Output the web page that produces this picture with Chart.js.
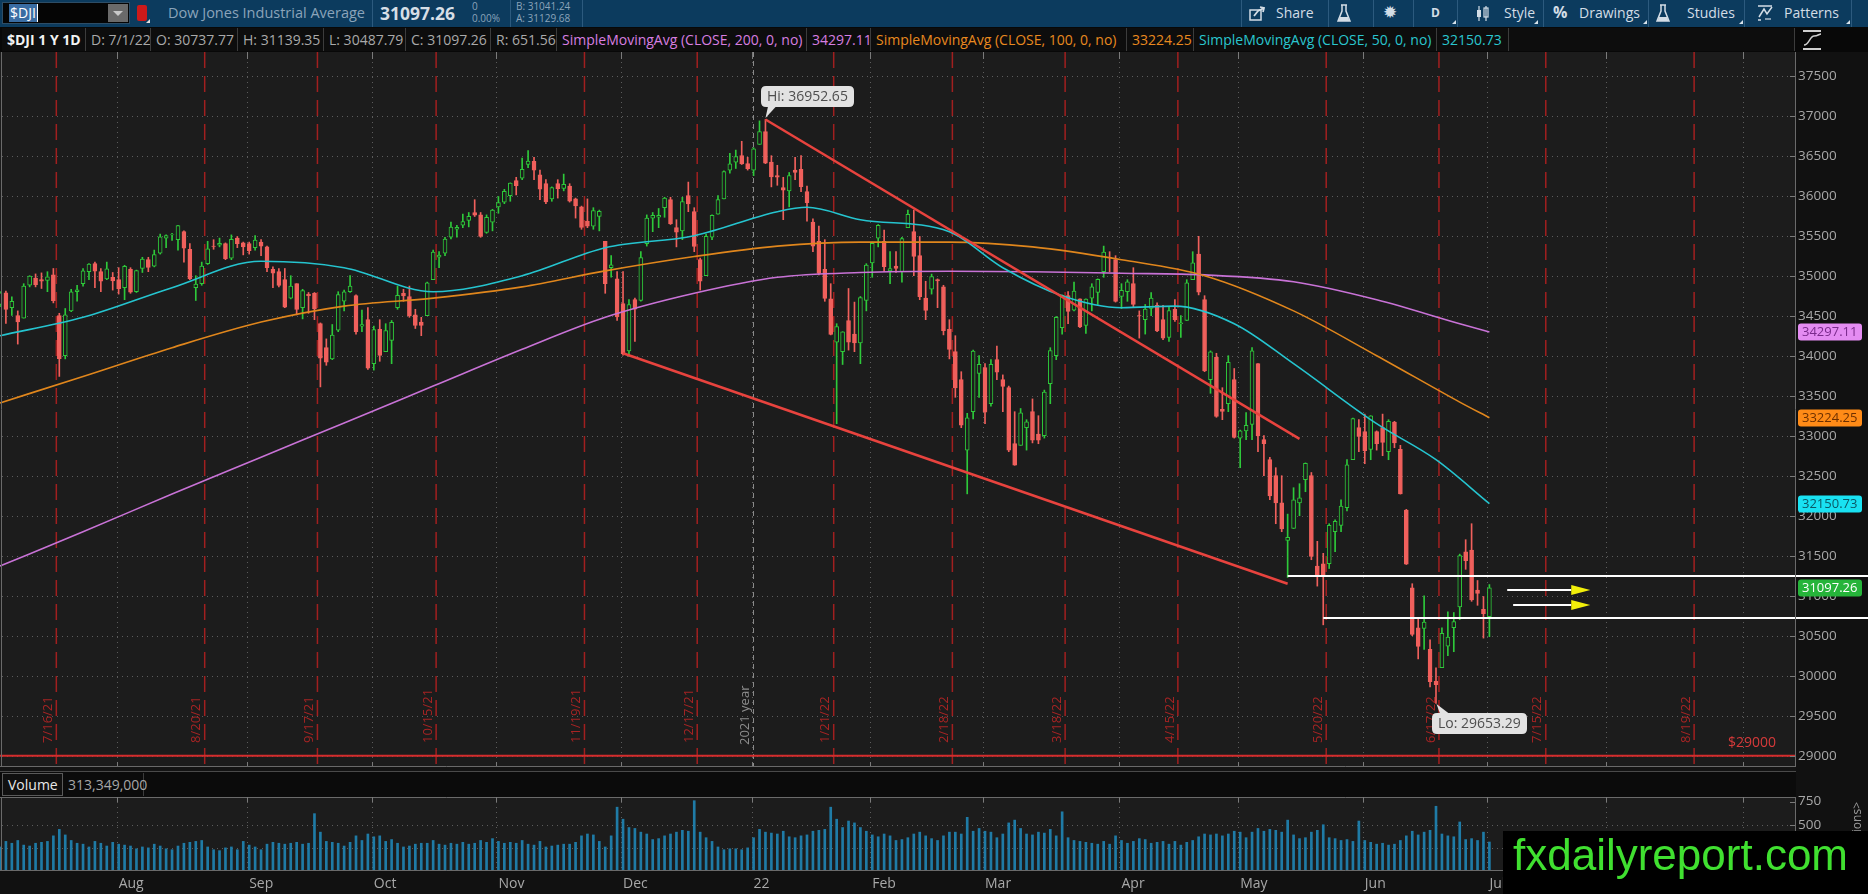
<!DOCTYPE html>
<html>
<head>
<meta charset="utf-8">
<title>$DJI 1 Y 1D</title>
<script src="https://cdn.jsdelivr.net/npm/chart.js@4.4.1/dist/chart.umd.min.js"></script>
<style>
*{box-sizing:border-box}
html,body{margin:0;padding:0;width:1868px;height:894px;overflow:hidden;background:#111111;font-family:'Open Sans',sans-serif;}
#tb{position:absolute;left:0;top:0;width:1868px;height:27px;background:#0c3b5e;}
.t{position:absolute;white-space:nowrap;}
.sep{position:absolute;top:0;width:1px;height:27px;background:#2c5a7e;}
.tri{position:absolute;top:20px;width:0;height:0;border-left:4px solid transparent;border-bottom:4px solid #d8e2ea;}
.bt{position:absolute;top:3px;font-size:14px;line-height:20px;color:#d3dde6;white-space:nowrap}
#info{position:absolute;left:0;top:27px;width:1868px;height:25px;background:#080808;}
.cell{position:absolute;top:1px;height:23px;line-height:23px;font-size:14px;color:#a9a9a9;padding-left:5px;border-right:1px solid #3c3c3c;white-space:nowrap;overflow:hidden;background:#0d0d0d}
canvas{position:absolute;display:block}
#gap{position:absolute;left:0;top:767px;width:1796px;height:5px;background:#141414;border-bottom:1px solid #4a4a4a}
#vhead{position:absolute;left:0;top:772px;width:1796px;height:25px;background:#0b0b0b;}
#wm{position:absolute;left:1503px;top:831px;width:365px;height:63px;background:#000;color:#40e030;font-family:'Liberation Sans',Arial,sans-serif;font-size:44px;line-height:48px;padding-left:10px;white-space:nowrap}
</style>
</head>
<body>

<div id="tb">
  <div style="position:absolute;left:2px;top:2px;width:128px;height:22px;background:#050505;border:1px solid #2d4d66"></div>
  <div class="t" style="left:9px;top:4px;height:18px;line-height:18px;padding:0 1px;background:#3a6da3;color:#fff;font-size:14px">$DJI</div>
  <div style="position:absolute;left:37px;top:4px;width:1px;height:18px;background:#fff"></div>
  <div style="position:absolute;left:108px;top:4px;width:20px;height:18px;background:#6a6a6a"></div>
  <div style="position:absolute;left:113px;top:11px;width:0;height:0;border-left:5px solid transparent;border-right:5px solid transparent;border-top:5px solid #c8c8c8"></div>
  <div style="position:absolute;left:137px;top:5px;width:10px;height:16px;background:#cc1a1a;border-radius:2px"></div>
  <div style="position:absolute;left:146px;top:19px;width:0;height:0;border-left:4px solid transparent;border-bottom:4px solid #e0e0e0"></div>
  <div class="t" style="left:168px;top:3px;font-size:14.5px;line-height:20px;color:#8ba4ba">Dow Jones Industrial Average</div>
  <div class="sep" style="left:372px"></div>
  <div class="t" id="tbPrice" style="left:380px;top:1px;font-size:17.5px;line-height:24px;font-weight:700;color:#d6dee6"></div>
  <div class="t" style="left:472px;top:0px;font-size:10px;line-height:12px;color:#8ba4ba">0</div>
  <div class="t" style="left:472px;top:12px;font-size:10px;line-height:12px;color:#8ba4ba">0.00%</div>
  <div class="sep" style="left:510px"></div>
  <div class="t" style="left:516px;top:0px;font-size:10px;line-height:12px;color:#8ba4ba">B: 31041.24</div>
  <div class="t" style="left:516px;top:12px;font-size:10px;line-height:12px;color:#8ba4ba">A: 31129.68</div>
  <div class="sep" style="left:582px"></div>

  <div class="sep" style="left:1241px"></div>
  <svg style="position:absolute;left:1249px;top:6px" width="17" height="15"><rect x="1" y="4" width="11" height="10" fill="none" stroke="#d3dde6" stroke-width="1.5"/><path d="M5 10 L9 5 L15 2 M11 1 L15 2 L14 6" fill="none" stroke="#d3dde6" stroke-width="1.8"/></svg>
  <div class="bt" style="left:1276px">Share</div>
  <div class="sep" style="left:1328px"></div>
  <svg style="position:absolute;left:1337px;top:4px" width="14" height="19"><path d="M4 1 H10 M5 1 V7 L1 17 H13 L9 7 V1" fill="none" stroke="#d3dde6" stroke-width="1.5"/><path d="M3 13 H11 L12.5 17 H1.5 Z" fill="#d3dde6"/></svg>
  <div class="sep" style="left:1373px"></div>
  <div class="bt" style="left:1383px;top:2px;font-size:17px">&#10041;</div>
  <div class="sep" style="left:1413px"></div>
  <div class="bt" style="left:1431px;font-weight:700;font-size:12px">D</div>
  <div class="tri" style="left:1452px"></div>
  <div class="sep" style="left:1457px"></div>
  <svg style="position:absolute;left:1475px;top:5px" width="15" height="17"><path d="M4 1 V16 M11 1 V16" stroke="#d3dde6" stroke-width="1.2"/><rect x="2" y="5" width="4" height="7" fill="#d3dde6"/><rect x="9" y="3" width="4" height="9" fill="none" stroke="#d3dde6" stroke-width="1.2"/></svg>
  <div class="bt" style="left:1504px">Style</div>
  <div class="tri" style="left:1534px"></div>
  <div class="sep" style="left:1543px"></div>
  <div class="bt" style="left:1553px;font-weight:700;font-size:16px;top:2px">%</div>
  <div class="bt" style="left:1579px">Drawings</div>
  <div class="tri" style="left:1643px"></div>
  <div class="sep" style="left:1648px"></div>
  <svg style="position:absolute;left:1656px;top:4px" width="14" height="19"><path d="M4 1 H10 M5 1 V7 L1 17 H13 L9 7 V1" fill="none" stroke="#d3dde6" stroke-width="1.5"/><path d="M3 13 H11 L12.5 17 H1.5 Z" fill="#d3dde6"/></svg>
  <div class="bt" style="left:1687px">Studies</div>
  <div class="tri" style="left:1739px"></div>
  <div class="sep" style="left:1744px"></div>
  <svg style="position:absolute;left:1757px;top:4px" width="17" height="18"><path d="M1 2 H15 M1 16 H4" stroke="#d3dde6" stroke-width="1.6"/><path d="M2 13 L7 5 L10 10 L15 3" fill="none" stroke="#d3dde6" stroke-width="1.5"/><path d="M8 15 L14 15" stroke="#d3dde6" stroke-width="1.2"/></svg>
  <div class="bt" style="left:1784px">Patterns</div>
  <div class="tri" style="left:1846px"></div>
  <div class="sep" style="left:1851px"></div>
</div>

<div id="info">
  <div class="cell" style="left:2px;width:84px;color:#f2f2f2;font-weight:700">$DJI 1 Y 1D</div>
  <div class="cell" style="left:86px;width:65px" id="cD"></div>
  <div class="cell" style="left:151px;width:87px" id="cO"></div>
  <div class="cell" style="left:238px;width:86px" id="cH"></div>
  <div class="cell" style="left:324px;width:82px" id="cL"></div>
  <div class="cell" style="left:406px;width:85px" id="cC"></div>
  <div class="cell" style="left:491px;width:66px" id="cR"></div>
  <div class="cell" style="left:557px;width:250px;color:#d77ee0">SimpleMovingAvg (CLOSE, 200, 0, no)</div>
  <div class="cell" style="left:807px;width:64px;color:#d77ee0" id="c200"></div>
  <div class="cell" style="left:871px;width:256px;color:#e8891f">SimpleMovingAvg (CLOSE, 100, 0, no)</div>
  <div class="cell" style="left:1127px;width:67px;color:#e8891f" id="c100"></div>
  <div class="cell" style="left:1194px;width:243px;color:#2ac6cf">SimpleMovingAvg (CLOSE, 50, 0, no)</div>
  <div class="cell" style="left:1437px;width:72px;color:#2ac6cf" id="c50"></div>
  <div class="cell" style="left:1509px;width:286px"></div>
  <svg style="position:absolute;left:1802px;top:2px" width="21" height="22"><path d="M1 2 H19 M1 20 H19" stroke="#cfcfcf" stroke-width="2"/><path d="M2 16 C7 16 8 7 12 7 S17 5 19 5" fill="none" stroke="#cfcfcf" stroke-width="1.5"/></svg>
</div>

<canvas id="price" width="1871" height="715" style="left:-3px;top:52px;width:1871px;height:715px"></canvas>
<div id="gap"></div>
<div id="vhead">
  <div style="position:absolute;left:2px;top:1px;width:61px;height:23px;border:1px solid #5a5a5a;background:#101010;color:#e8e8e8;font-size:14px;line-height:21px;padding-left:5px">Volume</div>
  <div id="vtxt" style="position:absolute;left:63px;top:1px;width:81px;height:23px;border-right:1px solid #3c3c3c;color:#a6a6a6;font-size:14px;line-height:23px;padding-left:5px"></div>
</div>
<canvas id="vol" width="1871" height="105" style="left:-3px;top:789px;width:1871px;height:105px"></canvas>
<div id="wm">fxdailyreport.com</div>

<script>
// ---------- calendar / categories ----------
const firstDay = '2021-07-02';
const slotCount = 303; // trading days shown incl. future expansion area
const holidays = ['2021-07-05','2021-09-06','2021-11-25','2021-12-24','2022-01-17','2022-02-21','2022-04-15','2022-05-30','2022-06-20','2022-07-04','2022-09-05'];
function tradingCalendar(first, count, closed){
  const out = []; const d = new Date(first + 'T00:00:00Z');
  while (out.length < count){
    const w = d.getUTCDay(); const s = d.toISOString().slice(0,10);
    if (w !== 0 && w !== 6 && closed.indexOf(s) < 0) out.push(s);
    d.setUTCDate(d.getUTCDate() + 1);
  }
  return out;
}
const categories = tradingCalendar(firstDay, slotCount, holidays);

// ---------- daily OHLC (Jul 2 2021 .. Jul 1 2022) ----------
const opens = [
34642,34786,34600,34500,34470,34880,34970,34950,34940,35010,34500,34000,34560,34800,34900,35050,35150,35050,34960,34980,
34950,34850,35080,34800,35090,35200,35120,35280,35470,35510,35450,35550,35330,34850,34900,35150,35370,35380,35400,35220,35470,35410,
35400,35350,35420,35360,35080,35050,34950,34720,34900,34600,34770,34780,34400,34100,33960,34320,34680,34800,34750,34370,34450,
33900,34330,34050,34190,34600,34780,34740,34510,34420,34500,34950,35230,35280,35480,35580,35630,35690,35790,35760,35540,35670,
35860,35920,36000,36190,36220,36390,36430,36260,36150,35960,36150,36090,36120,35960,35860,35680,35620,35740,35430,35100,34960,
34650,34060,34700,34690,35400,35720,35730,35850,35950,35600,35560,36000,35800,35200,35000,35480,35770,35960,36320,36420,36500,36400,
36320,36640,36800,36420,36250,36100,36060,36320,36330,36050,35670,35430,35080,34710,34170,34050,34440,34270,34160,34690,
35160,35470,35430,35060,35120,35050,35600,35550,35250,34720,34830,34950,34860,34330,34050,33700,32820,33300,33780,
33850,33400,33950,33700,33600,32900,32880,33100,33300,33020,33000,33650,34000,34350,34750,34570,34710,34380,34720,34790,35050,35230,35200,
34740,34800,34900,34500,34450,34590,34630,34450,34230,34580,34400,34440,34950,35270,34700,33700,33980,33330,33400,33700,
32970,33060,33140,33900,32950,32700,32500,32160,31690,31840,32160,32450,32500,31370,31400,31400,31800,31880,32100,32700,33100,
33050,32830,33050,33100,32800,33170,32830,32070,31100,30600,30590,30330,29930,30100,30370,30600,30860,31550,31570,31070,30830,
30737.77];
const highs = [
34802,34808,34735,34560,34900,35000,35022,35035,35050,35090,34530,34590,34830,34880,35090,35150,35170,35090,35170,35040,
35100,35130,35100,35070,35230,35230,35320,35520,35510,35530,35630,35560,35400,35000,35170,35430,35450,35470,35410,35510,35490,35420,
35420,35500,35450,35370,35110,35090,35090,35000,34900,34830,34790,34790,34410,34210,34390,34800,34820,35000,34760,34570,34600,
34370,34450,34400,34440,34870,34830,34870,34580,34480,34920,35320,35300,35480,35670,35630,35770,35790,35950,35790,35760,35830,
35990,36080,36160,36230,36470,36565,36480,36320,36200,36110,36200,36270,36150,35970,35870,35960,35850,35820,35430,35250,35050,
35050,34700,34720,35300,35760,35790,35840,35980,35980,35700,35980,36170,35850,35220,35520,35760,36000,36310,36530,36570,36680,36480,
36600,36935,36952.65,36500,36380,36230,36290,36480,36500,36120,35710,35620,35450,34900,34400,34300,34840,34670,34740,35150,
35420,35640,35570,35300,35300,35480,35820,35820,35490,34930,35020,34960,34880,34450,34250,33800,33280,34070,34000,
33900,33950,34120,33760,33620,33300,33340,33200,33460,33250,33570,34100,34490,34760,34800,34920,34710,34710,34900,34960,35370,35300,35250,
34900,34950,35100,34560,34640,34790,34660,34630,34610,34700,34500,34950,35300,35492,34750,34060,34030,33600,34000,33840,
33070,33290,34100,33900,33000,32730,32600,32500,32020,32350,32400,32660,32540,31680,31530,31900,31950,32200,32700,33220,33200,
33270,33250,33060,33270,33200,33180,32880,32080,31150,30720,31000,30450,30100,30600,30800,30790,31520,31700,31900,31190,30990,
31139.35];
const lows = [
34614,34402,34503,34145,34470,34860,34860,34840,34800,34660,33741,33960,34550,34680,34870,34950,34850,34800,34950,34820,
34770,34700,34780,34790,35040,35050,35110,35270,35350,35440,35320,35170,34950,34690,34880,35140,35330,35360,35200,35200,35350,35260,
35270,35320,35250,35050,34850,34860,34600,34710,34510,34460,34530,34450,33610,33880,33950,34300,34560,34790,34270,34300,33830,
33820,33930,34050,33900,34580,34680,34480,34340,34250,34500,34950,35100,35250,35460,35480,35600,35610,35740,35480,35530,35560,
35780,35900,35930,36010,36200,36350,36200,35950,35900,35930,35970,36060,35920,35720,35580,35600,35580,35560,34780,34980,34440,
34006,33990,34180,34680,35370,35550,35600,35730,35640,35360,35450,35800,35300,34820,35000,35450,35770,35960,36280,36340,36390,36320,
36250,36640,36400,36110,36130,35700,35860,36200,36050,35680,35300,35010,34680,34260,33150,33890,34070,34050,33900,34560,
34980,35360,35050,34900,35040,34920,35600,35000,34700,34450,34770,34600,34260,33960,33480,33100,32273,33210,33480,
33150,33370,33700,33300,32800,32630,32880,32820,32910,32900,32970,33400,33950,34270,34400,34560,34350,34280,34560,34640,34980,35050,34670,
34590,34680,34600,34220,34270,34500,34300,34200,34180,34430,34230,34440,34950,34760,33800,33530,33230,33200,33300,32970,
32600,32950,32950,32800,32500,32200,31900,31800,31229,31840,32000,32300,31450,31120,30636,31340,31550,31800,32060,32700,32800,
32650,32700,32820,32750,32700,32850,32270,31390,30500,30210,30330,29860,29653.29,30100,30250,30300,30700,31330,30930,30880,30470,
30487.79];
const closes = [
34786,34577,34681,34422,34870,34996,34889,34933,34987,34688,33962,34512,34798,34823,35062,35144,35058,34931,35085,34935,
34838,35117,34793,35064,35209,35102,35265,35485,35500,35515,35625,35343,34961,34894,35120,35336,35367,35406,35214,35456,35400,35361,
35313,35444,35369,35100,35031,34879,34608,34870,34578,34814,34751,34585,33970,33919,34258,34765,34798,34870,34300,34390,33844,
34326,34003,34315,34417,34755,34746,34496,34378,34377,34912,35295,35259,35458,35609,35603,35677,35741,35757,35491,35731,35820,
35914,36053,36158,36124,36328,36432,36320,36080,35921,36100,36087,36143,35931,35871,35602,35619,35814,35804,34899,35136,34484,
34022,34640,34580,35227,35719,35755,35754,35971,35650,35545,35927,35898,35365,34932,35493,35754,35950,36302,36398,36488,36398,36338,
36585,36800,36408,36236,36232,36069,36252,36290,36114,35912,35369,35029,34715,34265,34365,34298,34168,34161,34725,35132,
35405,35629,35112,35090,35091,35463,35768,35241,34738,34566,34989,34934,34312,34079,33597,33131,33224,34059,33893,
33294,33891,33795,33615,32818,32633,33286,33174,32944,32945,33545,34063,34481,34755,34553,34808,34359,34708,34862,34956,35294,35229,34678,
34818,34922,34641,34497,34584,34721,34309,34220,34565,34451,34412,34911,35161,34793,33811,34049,33240,33302,33916,32977,
33062,33129,34061,32998,32899,32246,32161,31834,31730,32197,32223,32655,31490,31253,31262,31880,31929,32120,32637,33213,32990,
32813,33248,32900,32916,33180,32910,32273,31393,30517,30365,30669,29927,29889,30530,30484,30677,31501,31439,30947,31029,30775,
31097.26];
// daily volume, millions
const volumes = [
260,320,300,330,280,270,300,310,320,380,450,390,330,300,290,260,320,300,270,310,
290,280,270,240,260,250,290,270,240,230,270,300,310,320,330,260,230,220,250,260,230,320,
280,260,230,290,310,300,290,300,310,290,300,620,420,320,310,300,270,310,380,330,400,
370,380,320,340,300,260,270,290,300,300,330,290,280,300,290,310,290,300,330,310,350,
320,300,310,300,330,290,280,320,260,270,280,290,290,310,380,400,390,320,260,380,690,
560,470,460,420,400,340,350,380,400,420,440,430,760,420,360,320,260,230,240,240,230,250,
360,450,420,410,400,430,370,360,380,390,430,440,450,690,560,470,540,520,470,430,
390,370,400,380,330,340,360,400,420,380,350,330,380,420,420,400,580,430,460,
430,420,360,400,520,550,460,400,390,420,410,450,380,640,360,330,320,310,300,290,320,290,380,
330,300,320,350,340,300,310,320,290,320,280,310,330,370,400,390,400,380,400,430,
420,360,420,460,430,450,440,420,550,390,350,360,420,440,500,360,350,330,340,320,540,
330,310,290,300,280,290,330,380,430,390,420,440,700,400,380,370,530,340,350,330,420,
313.349];

// ---------- moving averages ----------
const sma50Dates  = ['2021-07-02','2021-07-23','2021-08-13','2021-09-03','2021-09-24','2021-10-15','2021-11-05','2021-11-26','2021-12-17','2022-01-07','2022-01-14','2022-01-28','2022-02-18','2022-03-04','2022-03-18','2022-04-01','2022-04-14','2022-04-29','2022-05-13','2022-06-03','2022-06-17','2022-07-01'];
const sma50Values = [34250,34480,34850,35180,35100,34800,35000,35350,35500,35800,35855,35700,35550,35100,34750,34600,34620,34400,33900,33150,32700,32150.73];
const smaLongDates = ['2021-07-02','2021-07-23','2021-08-13','2021-09-03','2021-09-24','2021-10-15','2021-11-05','2021-11-26','2021-12-17','2022-01-07','2022-01-28','2022-02-18','2022-03-11','2022-04-01','2022-04-22','2022-05-13','2022-06-03','2022-06-24','2022-07-01'];
const sma100Values = [33410,33740,34100,34420,34620,34720,34860,35060,35240,35370,35420,35420,35360,35200,35000,34560,34000,33420,33224.25];
const sma200Values = [31370,31800,32270,32730,33160,33620,34080,34480,34780,34980,35040,35055,35050,35030,35010,34925,34700,34400,34297.11];

// ---------- drawings ----------
const trendUpperDates = ['2022-01-05','2022-05-16'];
const trendUpperValues = [36952.65, 32960];
const trendLowerDates = ['2021-12-01','2022-05-12'];
const trendLowerValues = [34030, 31150];
const levelStarts = ['2022-05-12','2022-05-20'];
const levelValues = [31250, 30725];
const arrowStarts = ['2022-07-07','2022-07-08'];
const arrowEnds = ['2022-07-27','2022-07-27'];
const arrowValues = [31070, 30880];
const alertLevel = 29000;
const expiryDates = ['2021-07-16','2021-08-20','2021-09-17','2021-10-15','2021-11-19','2021-12-17','2022-01-21','2022-02-18','2022-03-18','2022-04-14','2022-05-20','2022-06-17','2022-07-15','2022-08-19'];
const expiryLabels = ['7/16/21','8/20/21','9/17/21','10/15/21','11/19/21','12/17/21','1/21/22','2/18/22','3/18/22','4/15/22','5/20/22','6/17/22','7/15/22','8/19/22'];
const yearStart = '2022-01-03';
const yearLabel = '2021 year';

// ---------- axes ----------
const priceMin = 28859, priceMax = 37796;
const priceTicks = [29000,29500,30000,30500,31000,31500,32000,32500,33000,33500,34000,34500,35000,35500,36000,36500,37000,37500];
const volMax = 800;
const volTicks = [250,500,750];
const volGrid = [250,500];
const monthNames = ['Jan','Feb','Mar','Apr','May','Jun','Jul','Aug','Sep','Oct','Nov','Dec'];

// ---------- derived ----------
const FONT = "'Open Sans', sans-serif";
const last = closes.length - 1;
const upColor = '#2ec93a', downColor = '#f0605c', plotBg = '#1c1c1c';
const candleColors = closes.map((c,i) => c >= opens[i] ? upColor : downColor);
const bodyFill = closes.map((c,i) => c >= opens[i] ? plotBg : downColor);
const bodyData = closes.map((c,i) => [Math.min(opens[i], c), Math.max(opens[i], c)]);
const wickData = closes.map((c,i) => [lows[i], highs[i]]);
const pts = (ds, vs) => ds.map((d,k) => ({x:d, y:vs[k]}));
const monthStarts = [];
for (let i = 1; i < categories.length; i++) if (categories[i].slice(0,7) !== categories[i-1].slice(0,7)) monthStarts.push(i);
function monthLabel(s){ const m = +s.slice(5,7) - 1; return m === 0 ? s.slice(2,4) : monthNames[m]; }
const hiIdx = highs.indexOf(Math.max(...highs));
const loIdx = lows.indexOf(Math.min(...lows));

// header texts from data
const d0 = categories[last];
document.getElementById('tbPrice').textContent = closes[last].toFixed(2);
document.getElementById('cD').textContent = 'D: ' + (+d0.slice(5,7)) + '/' + (+d0.slice(8,10)) + '/' + d0.slice(2,4);
document.getElementById('cO').textContent = 'O: ' + opens[last].toFixed(2);
document.getElementById('cH').textContent = 'H: ' + highs[last].toFixed(2);
document.getElementById('cL').textContent = 'L: ' + lows[last].toFixed(2);
document.getElementById('cC').textContent = 'C: ' + closes[last].toFixed(2);
document.getElementById('cR').textContent = 'R: ' + (highs[last] - lows[last]).toFixed(2);
document.getElementById('c200').textContent = sma200Values[sma200Values.length-1].toFixed(2);
document.getElementById('c100').textContent = sma100Values[sma100Values.length-1].toFixed(2);
document.getElementById('c50').textContent = sma50Values[sma50Values.length-1].toFixed(2);
document.getElementById('vtxt').textContent = Math.round(volumes[last]*1e6).toLocaleString('en-US');

// ---------- helpers ----------
function seg(ctx,x1,y1,x2,y2){ ctx.beginPath(); ctx.moveTo(x1,y1); ctx.lineTo(x2,y2); ctx.stroke(); }
function rrect(ctx,x,y,w,h,r){ ctx.beginPath(); ctx.moveTo(x+r,y); ctx.lineTo(x+w-r,y); ctx.quadraticCurveTo(x+w,y,x+w,y+r); ctx.lineTo(x+w,y+h-r); ctx.quadraticCurveTo(x+w,y+h,x+w-r,y+h); ctx.lineTo(x+r,y+h); ctx.quadraticCurveTo(x,y+h,x,y+h-r); ctx.lineTo(x,y+r); ctx.quadraticCurveTo(x,y,x+r,y); ctx.closePath(); }
function vtext(ctx, s, xc, yBottom, color){ ctx.save(); ctx.translate(xc, yBottom); ctx.rotate(-Math.PI/2); ctx.fillStyle = color; ctx.font = '13px ' + FONT; ctx.textAlign = 'left'; ctx.textBaseline = 'middle'; ctx.fillText(s, 0, 0); ctx.restore(); }
function tag(ctx, xl, yc, text, bg, fg){ rrect(ctx, xl, yc-8.5, 64, 17, 3); ctx.fillStyle = bg; ctx.fill(); ctx.fillStyle = fg; ctx.font = '13px ' + FONT; ctx.textAlign = 'left'; ctx.textBaseline = 'middle'; ctx.fillText(text, xl+4, yc+0.5); }
function callout(ctx, px, py, text, above){
  ctx.font = '14px ' + FONT;
  const w = Math.ceil(ctx.measureText(text).width) + 12, h = 21;
  const bx = px - 4, by = above ? py - 33 : py + 10;
  ctx.fillStyle = '#e2e2e2';
  rrect(ctx, bx, by, w, h, 5); ctx.fill();
  ctx.beginPath();
  if (above){ ctx.moveTo(px+0.5, py-1); ctx.lineTo(px+3, by+h-0.5); ctx.lineTo(px+11, by+h-0.5); }
  else { ctx.moveTo(px+0.5, py+1); ctx.lineTo(px+4, by+0.5); ctx.lineTo(px+13, by+0.5); }
  ctx.closePath(); ctx.fill();
  ctx.fillStyle = '#4e4e4e'; ctx.textAlign = 'left'; ctx.textBaseline = 'middle';
  ctx.fillText(text, bx+6, by+h/2+0.5);
}

// ---------- plugins ----------
const priceDecor = {
  id: 'priceDecor',
  beforeDraw(c){ const {ctx, chartArea:a} = c; ctx.save(); ctx.fillStyle = plotBg; ctx.fillRect(a.left, a.top, a.right-a.left, a.bottom-a.top); ctx.restore(); },
  beforeDatasetsDraw(c){
    const {ctx, chartArea:a, scales:{x, y}} = c;
    const slot = (a.right - a.left) / categories.length;
    ctx.save();
    ctx.lineWidth = 1; ctx.strokeStyle = '#5c5c5c'; ctx.setLineDash([1,4]);
    priceTicks.forEach(v => { const py = Math.round(y.getPixelForValue(v)) + 0.5; seg(ctx, a.left, py, a.right, py); });
    monthStarts.forEach(i => { const px = Math.round(x.getPixelForValue(i)) - 1.5; seg(ctx, px, a.top, px, a.bottom); });
    const yx = Math.round(x.getPixelForValue(categories.indexOf(yearStart))) - 0.5;
    ctx.strokeStyle = '#8a8a8a'; ctx.setLineDash([5,4]); seg(ctx, yx, a.top, yx, a.bottom);
    vtext(ctx, yearLabel, yx - 8, a.bottom - 22, '#8d8d8d');
    ctx.strokeStyle = 'rgba(185,32,32,0.85)'; ctx.lineWidth = 1.5; ctx.setLineDash([16,8]);
    expiryDates.forEach((d,k) => {
      const ex = x.getPixelForValue(categories.indexOf(d)) + slot/2;
      seg(ctx, ex, a.top, ex, a.bottom);
      vtext(ctx, expiryLabels[k], ex - 8, a.bottom - 24, '#a82424');
    });
    ctx.setLineDash([]); ctx.strokeStyle = '#d42c2c'; ctx.lineWidth = 2;
    const ay = y.getPixelForValue(alertLevel); seg(ctx, a.left, ay, a.right, ay);
    ctx.fillStyle = '#d63a3a'; ctx.font = '14px ' + FONT; ctx.textAlign = 'right'; ctx.textBaseline = 'middle';
    ctx.fillText('$' + alertLevel, a.right - 19, ay - 12.5);
    ctx.restore();
  },
  afterDatasetsDraw(c){
    const {ctx, scales:{x, y}} = c;
    ctx.save();
    ctx.strokeStyle = '#ffffff'; ctx.lineWidth = 2;
    levelStarts.forEach((d,k) => { const lx = x.getPixelForValue(categories.indexOf(d)); const ly = Math.round(y.getPixelForValue(levelValues[k])); seg(ctx, lx, ly, c.width, ly); });
    arrowStarts.forEach((d,k) => {
      const x1 = x.getPixelForValue(categories.indexOf(d));
      const x2 = x.getPixelForValue(categories.indexOf(arrowEnds[k]));
      const ay = Math.round(y.getPixelForValue(arrowValues[k])); const hl = 19;
      ctx.strokeStyle = '#ffffff'; ctx.lineWidth = 2; seg(ctx, x1, ay, x2 - hl, ay);
      ctx.fillStyle = '#f2ef0a'; ctx.beginPath(); ctx.moveTo(x2-hl, ay-5); ctx.lineTo(x2, ay); ctx.lineTo(x2-hl, ay+5); ctx.closePath(); ctx.fill();
    });
    callout(ctx, Math.round(x.getPixelForValue(hiIdx)), Math.round(y.getPixelForValue(highs[hiIdx])), 'Hi: ' + highs[hiIdx].toFixed(2), true);
    callout(ctx, Math.round(x.getPixelForValue(loIdx)), Math.round(y.getPixelForValue(lows[loIdx])), 'Lo: ' + lows[loIdx].toFixed(2), false);
    ctx.restore();
  },
  afterDraw(c){
    const {ctx, chartArea:a, scales:{x, y}} = c;
    ctx.save();
    ctx.strokeStyle = '#7a7a7a'; ctx.lineWidth = 1;
    priceTicks.forEach(v => { const py = Math.round(y.getPixelForValue(v)) + 0.5; seg(ctx, a.right-5, py, a.right, py); });
    monthStarts.forEach(i => { const px = Math.round(x.getPixelForValue(i)) - 1.5; seg(ctx, px, a.bottom-5, px, a.bottom); seg(ctx, px, a.top, px, a.top+7); });
    ctx.strokeStyle = '#6a6a6a';
    seg(ctx, a.right+0.5, 0, a.right+0.5, c.height);
    seg(ctx, 4.5, 0, 4.5, a.bottom);
    seg(ctx, 0, a.bottom-0.5, a.right, a.bottom-0.5);
    const tags = [
      {v: sma200Values[sma200Values.length-1], bg:'#e48cf2', fg:'#7a2a8c'},
      {v: sma100Values[sma100Values.length-1], bg:'#ff8b17', fg:'#6e3000'},
      {v: sma50Values[sma50Values.length-1], bg:'#19e2f2', fg:'#0b5865'},
      {v: closes[last], bg:'#26b43a', fg:'#ffffff'}
    ];
    tags.forEach(t => tag(ctx, a.right + 3, Math.round(y.getPixelForValue(t.v)), t.v.toFixed(2), t.bg, t.fg));
    ctx.restore();
  }
};

const volDecor = {
  id: 'volDecor',
  beforeDraw(c){ const {ctx, chartArea:a} = c; ctx.save(); ctx.fillStyle = plotBg; ctx.fillRect(a.left, a.top, a.right-a.left, a.bottom-a.top); ctx.restore(); },
  beforeDatasetsDraw(c){
    const {ctx, chartArea:a, scales:{x, y}} = c;
    ctx.save(); ctx.lineWidth = 1; ctx.strokeStyle = '#5c5c5c'; ctx.setLineDash([1,4]);
    volGrid.forEach(v => { const py = Math.round(y.getPixelForValue(v)) + 0.5; seg(ctx, a.left, py, a.right, py); });
    monthStarts.forEach(i => { const px = Math.round(x.getPixelForValue(i)) - 1.5; seg(ctx, px, a.top, px, a.bottom); });
    ctx.restore();
  },
  afterDraw(c){
    const {ctx, chartArea:a, scales:{x, y}} = c;
    ctx.save(); ctx.strokeStyle = '#6a6a6a'; ctx.lineWidth = 1;
    seg(ctx, 0, a.top+0.5, a.right, a.top+0.5);
    seg(ctx, 0, a.bottom-0.5, a.right, a.bottom-0.5);
    seg(ctx, a.right+0.5, a.top, a.right+0.5, a.bottom);
    seg(ctx, 4.5, a.top, 4.5, a.bottom);
    ctx.strokeStyle = '#7a7a7a';
    monthStarts.forEach(i => { const px = Math.round(x.getPixelForValue(i)) - 1.5; seg(ctx, px, a.top, px, a.top+5); });
    volTicks.forEach(v => { const py = Math.round(y.getPixelForValue(v)) + 0.5; seg(ctx, a.right-5, py, a.right, py); });
    ctx.translate(1861, a.top + 5); ctx.rotate(-Math.PI/2);
    ctx.fillStyle = '#9a9a9a'; ctx.font = '12px ' + FONT; ctx.textAlign = 'right'; ctx.textBaseline = 'middle';
    ctx.fillText('Options>', 0, 0);
    ctx.restore();
  }
};

const noPad = a => { a.paddingTop = 0; a.paddingBottom = 0; a.paddingLeft = 0; a.paddingRight = 0; };
const common = { responsive:false, animation:false, events:[], devicePixelRatio:1, plugins:{legend:{display:false}, tooltip:{enabled:false}} };

new Chart(document.getElementById('price'), {
  type: 'bar',
  data: {
    labels: categories,
    datasets: [
      {type:'line', data: pts(trendUpperDates, trendUpperValues), borderColor:'#e8433e', borderWidth:2.5, pointRadius:0, order:1},
      {type:'line', data: pts(trendLowerDates, trendLowerValues), borderColor:'#e8433e', borderWidth:2.5, pointRadius:0, order:1},
      {type:'line', data: pts(sma50Dates, sma50Values), borderColor:'#25c4cf', borderWidth:1.6, pointRadius:0, tension:0.4, cubicInterpolationMode:'monotone', order:2},
      {type:'line', data: pts(smaLongDates, sma100Values), borderColor:'#e0861c', borderWidth:1.6, pointRadius:0, tension:0.4, cubicInterpolationMode:'monotone', order:3},
      {type:'line', data: pts(smaLongDates, sma200Values), borderColor:'#c872d6', borderWidth:1.6, pointRadius:0, tension:0.4, cubicInterpolationMode:'monotone', order:4},
      {type:'bar', data: bodyData, backgroundColor: bodyFill, borderColor: candleColors, borderWidth:1, borderSkipped:false, barThickness:4, grouped:false, order:5},
      {type:'bar', data: wickData, backgroundColor: candleColors, barThickness:1, grouped:false, order:6}
    ]
  },
  options: Object.assign({}, common, {
    layout: {padding:0},
    scales: {
      x: {display:false, offset:true},
      y: {position:'right', min:priceMin, max:priceMax,
          afterBuildTicks: a => { a.ticks = priceTicks.map(v => ({value:v})); },
          afterFit: a => { a.width = 73; noPad(a); },
          grid:{display:false, drawTicks:false}, border:{display:false},
          ticks:{padding:3, color:'#a8a8a8', font:{family:FONT, size:13.5}, callback: v => String(v)}}
    }
  }),
  plugins: [priceDecor]
});

new Chart(document.getElementById('vol'), {
  type: 'bar',
  data: { labels: categories, datasets: [ {data: volumes, backgroundColor:'#1f7ba6', barThickness:2, grouped:false} ] },
  options: Object.assign({}, common, {
    layout: {padding:{top:8, left:0, right:0, bottom:0}},
    scales: {
      x: {offset:true, grid:{display:false, drawTicks:false}, border:{display:false},
          afterBuildTicks: a => { a.ticks = monthStarts.map(i => ({value:i})); },
          afterFit: a => { a.height = 23; noPad(a); },
          ticks:{autoSkip:false, maxRotation:0, minRotation:0, align:'start', padding:5, color:'#a8a8a8', font:{family:FONT, size:14},
                 callback: v => monthLabel(categories[v])}},
      y: {position:'right', min:0, max:volMax,
          afterBuildTicks: a => { a.ticks = volTicks.map(v => ({value:v})); },
          afterFit: a => { a.width = 73; noPad(a); },
          grid:{display:false, drawTicks:false}, border:{display:false},
          ticks:{padding:3, color:'#a8a8a8', font:{family:FONT, size:13.5}}}
    }
  }),
  plugins: [volDecor]
});
</script>
</body>
</html>
